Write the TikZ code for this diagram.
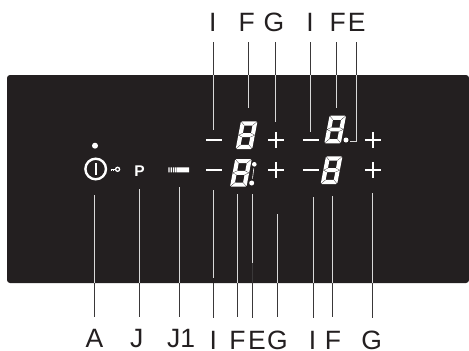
\documentclass[tikz,border=0pt]{standalone}
\usepackage{fontspec}
\setmainfont{Liberation Sans}
\definecolor{panel}{HTML}{231F20}
\definecolor{leaddark}{HTML}{3A3839}
\definecolor{leadlight}{HTML}{D8D8D8}
\tikzset{
  callout/.style={font=\fontsize{26.5}{26.5}\selectfont,text=panel,anchor=base,inner sep=0pt},
  leadout/.style={draw=leaddark,line width=1pt},
  leadin/.style={draw=leadlight,line width=1pt},
  ctrl/.style={draw=white,line width=1.5pt},
}
\newcommand{\sevenseg}[2]{%
  \begin{scope}[shift={(#1,#2)},xslant=0.19]
    \fill[white,even odd rule]
      (1.2,0)--(15.3,0)--(16.5,-1.2)--(16.5,-26.5)--(15.3,-27.7)--(1.2,-27.7)--(0,-26.5)--(0,-1.2)--cycle
      (4.2,-4.2)rectangle(12.3,-11.9)
      (4.2,-15.8)rectangle(12.3,-23.5);
    \draw[panel,line width=0.25pt] (0,0)--(4.2,-4.2) (16.5,0)--(12.3,-4.2) (0,-27.7)--(4.2,-23.5) (16.5,-27.7)--(12.3,-23.5)
      (0,-13.85)--(4.2,-11.9) (0,-13.85)--(4.2,-15.8) (16.5,-13.85)--(12.3,-11.9) (16.5,-13.85)--(12.3,-15.8);
  \end{scope}}
\newcommand{\minuskey}[2]{\draw[ctrl] (#1-8.2,#2)--(#1+8.2,#2);}
\newcommand{\pluskey}[2]{\draw[ctrl] (#1-8.2,#2)--(#1+8.2,#2) (#1,#2-8.2)--(#1,#2+8.2);}
\begin{document}
\begin{tikzpicture}[x=1pt,y=-1pt]
\useasboundingbox (0,0) rectangle (469,351);
\fill[panel,rounded corners=3pt] (7,75) -- (469,75) -- (469,283) -- (7,283) -- cycle;

% top labels and leaders
\foreach \n/\t/\lx/\x/\yend in {tI/I/212.7/213/130, tF/F/246.7/248/108, tG/G/274/275/122, tIb/I/310/310/132, tFb/F/337.7/336/108}{
  \node[callout] (\n) at (\lx,31) {\t};
  \coordinate (\n a) at (\x,42);
  \coordinate (\n b) at (\x,75);
  \coordinate (\n c) at (\x,\yend);
  \draw[leadout] (\n a)--(\n b);
  \draw[leadin] (\n b)--(\n c);
}
\node[callout] (tE) at (356.7,31) {E};
\coordinate (tEa) at (356,42);
\coordinate (tEb) at (356,75);
\coordinate (tEc) at (356,141);
\coordinate (tEd) at (350,141);
\draw[leadout] (tEa)--(tEb);
\draw[leadin] (tEb)--(tEc)--(tEd);

% bottom labels and leaders
\foreach \n/\t/\lx/\base/\x/\ystart/\yend/\ydark in {bA/A/94.5/347.5/94.7/195/283/317, bJ/J/136.7/347.5/139/189/283/317, bK/J1/181/347.5/179.5/187/283/317, bI/I/213.3/349.5/213/190/278/318, bF/F/237.5/349.5/237/194/283/317, bG/G/277.5/349.5/277/214/283/317, bIb/I/312.5/349.5/313/197/283/318, bFb/F/333/349.5/332/196/283/317, bGb/G/371.7/349.5/372/193/283/318}{
  \node[callout] (\n) at (\lx,\base) {\t};
  \coordinate (\n a) at (\x,\ystart);
  \coordinate (\n b) at (\x,\yend);
  \coordinate (\n c) at (\x,283);
  \coordinate (\n d) at (\x,\ydark);
  \draw[leadin] (\n a)--(\n b);
  \draw[leadout] (\n c)--(\n d);
}
\node[callout] (bE) at (257,349.5) {E};
\coordinate (bEa) at (252,194);
\coordinate (bEb) at (252,263);
\coordinate (bEc) at (252,318);
\draw[leadin] (bEa)--(bEb);
\draw[leadout] (bEb)--(bEc);

% digits
\sevenseg{235.7}{149}
\sevenseg{230}{186.7}
\sevenseg{324.3}{143.3}
\sevenseg{320.7}{184}

% decimal points
\fill[white] (346,140) circle (2.5);
\fill[white] (254.3,164.3) circle (2.3);
\fill[white] (251.7,183) circle (2.5);
\draw[white,line width=0.6pt] (253.8,168.5)--(252.5,178.5);

% keys
\minuskey{214}{140}
\minuskey{214}{170}
\pluskey{276}{140}
\pluskey{276}{170}
\minuskey{311}{140}
\minuskey{311}{170}
\pluskey{373}{140}
\pluskey{373}{170}

% power symbol
\fill[white] (95,145.7) circle (3);
\draw[white,line width=2.4pt] (95.7,169) circle (10.3);
\draw[white,line width=2.2pt] (95.7,163)--(95.7,175);
% key glyph
\draw[white,line width=1.3pt] (117.6,169.3) circle (2);
\draw[white,line width=1.3pt] (110.7,169.3)--(115.6,169.3);
\draw[white,line width=0.9pt] (111.6,169.3)--(111.6,171.3) (113.6,169.3)--(113.6,171);

% P
\node[font=\bfseries\fontsize{15.5}{15.5}\selectfont,text=white,anchor=base,inner sep=0pt] (pkey) at (139.5,176) {P};

% J1 bar
\fill[white] (168.3,167.3) rectangle (169.7,172.3)
  (170.6,167.3) rectangle (172,172.3)
  (173,167.3) rectangle (174.3,172.3)
  (175,167.3) rectangle (176.3,172.3)
  (176.8,167.3) rectangle (189,172.3);
\end{tikzpicture}
\end{document}
